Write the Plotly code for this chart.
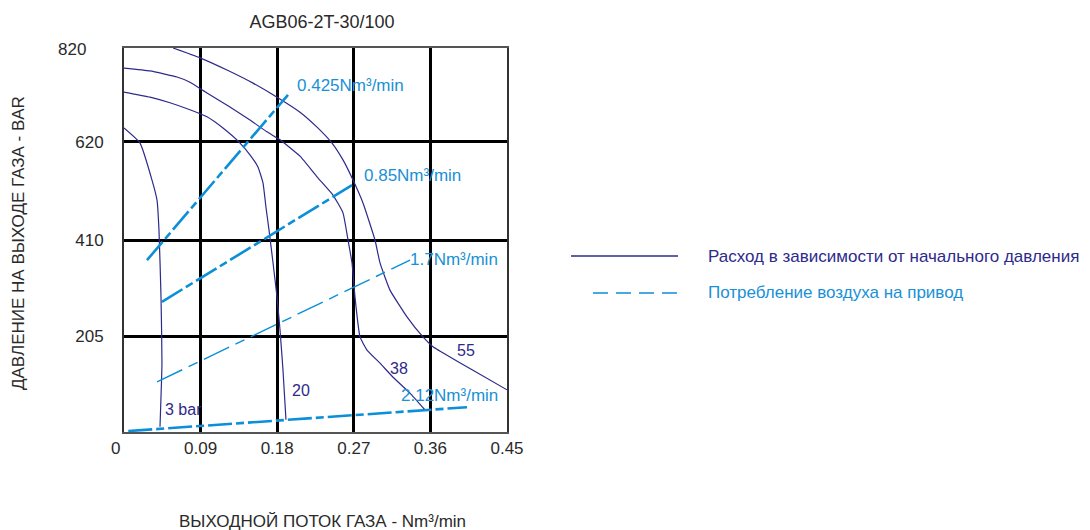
import plotly.graph_objects as go

# ---------------- data ----------------
x_ticks = [0.09, 0.18, 0.27, 0.36, 0.45]
x_ticktext = ["0.09", "0.18", "0.27", "0.36", "0.45"]
y_ticks = [205, 410, 620]
y_top_label = "820"
origin_label = "0"

# flow curves (gas outlet flow vs outlet pressure) for inlet pressures
c3_x = [0.0, 0.0188, 0.0329, 0.0388, 0.0411, 0.0435, 0.0446, 0.0423]
c3_y = [649, 617, 538, 495, 431, 288, 147, 11]

c20_x = [0.0, 0.0305, 0.0540, 0.0775, 0.0975, 0.1163, 0.1363, 0.1480, 0.1574,
         0.1633, 0.1668, 0.1704, 0.1751, 0.1798, 0.1833, 0.1868, 0.1903]
c20_y = [726, 715, 703, 688, 673, 649, 617, 592, 566, 532, 480, 431, 361, 288,
         218, 132, 26]

c38_x = [0.0, 0.0305, 0.0623, 0.0775, 0.0975, 0.1245, 0.1480, 0.1680, 0.1833,
         0.2068, 0.2268, 0.2456, 0.2573, 0.2632, 0.2679, 0.2714, 0.2773, 0.2855,
         0.3008, 0.3161, 0.3360, 0.3537]
c38_y = [777, 771, 758, 747, 724, 694, 666, 641, 624, 589, 545, 506, 468, 410,
         361, 288, 203, 175, 147, 117, 83, 47]

c55_x = [0.0576, 0.0893, 0.1210, 0.1516, 0.1798, 0.2068, 0.2268, 0.2444, 0.2573,
         0.2691, 0.2808, 0.2949, 0.3008, 0.3125, 0.3325, 0.3513, 0.3631, 0.3830,
         0.4100, 0.4500]
c55_y = [820, 799, 773, 745, 715, 683, 651, 617, 581, 538, 489, 410, 361, 303,
         246, 203, 182, 160, 132, 90]

curve_labels = ["3 bar", "20", "38", "55"]
curve_label_x = [0.0458, 0.195, 0.3102, 0.389]
curve_label_y = [49, 88, 135, 173]

# air consumption lines
air_labels = ["0.425Nm³/min", "0.85Nm³/min", "1.7Nm³/min", "2.12Nm³/min"]
air_x = [[0.0270, 0.1927], [0.0446, 0.2679], [0.0388, 0.3360], [0.005, 0.4030]]
air_y = [[367, 720], [278, 527], [107, 367], [2, 53]]
air_label_x = [0.2009, 0.2797, 0.3337, 0.3231]
air_label_y = [739, 547, 369, 77]

legend_texts = ["Расход в зависимости от начального давления",
                "Потребление воздуха на привод"]

# ---------------- style ----------------
NAVY = "#2d2a8c"
BLUE = "#0a8fd8"
LBLUE = "#1a90d6"
TXT = "#2a2a2a"
FONT = "Arial, Liberation Sans, sans-serif"

fig = go.Figure()

for xs, ys in [(c3_x, c3_y), (c20_x, c20_y), (c38_x, c38_y), (c55_x, c55_y)]:
    fig.add_trace(go.Scatter(x=xs, y=ys, mode="lines", showlegend=False,
                             line=dict(color=NAVY, width=1.2, shape="spline", smoothing=0.4),
                             hoverinfo="skip"))

air_widths = [2.6, 2.6, 1.4, 2.6]
air_dash = ["24px,4px,8px,4px", "24px,4px,8px,4px", "28px,7px,10px,7px", "24px,4px,8px,4px"]
for i in range(4):
    fig.add_trace(go.Scatter(x=air_x[i], y=air_y[i], mode="lines", showlegend=False,
                             line=dict(color=BLUE, width=air_widths[i], dash=air_dash[i]),
                             hoverinfo="skip"))

annotations = []
for t, x, y in zip(curve_labels, curve_label_x, curve_label_y):
    annotations.append(dict(x=x, y=y, text=t, showarrow=False, xanchor="left",
                            yanchor="middle", font=dict(color=NAVY, size=16, family=FONT)))
for t, x, y in zip(air_labels, air_label_x, air_label_y):
    annotations.append(dict(x=x, y=y, text=t, showarrow=False, xanchor="left",
                            yanchor="middle", font=dict(color=LBLUE, size=17, family=FONT)))

# corner labels
annotations.append(dict(xref="paper", yref="paper", x=-0.094, y=0.995, xanchor="right",
                        yanchor="middle", text=y_top_label, showarrow=False,
                        font=dict(size=17, color=TXT, family=FONT)))
annotations.append(dict(xref="paper", yref="paper", x=-0.022, y=-0.0417, xanchor="center",
                        yanchor="middle", text=origin_label, showarrow=False,
                        font=dict(size=17, color=TXT, family=FONT)))

# axis titles
annotations.append(dict(xref="paper", yref="paper", x=0.517, y=-0.232, yanchor="middle",
                        text="ВЫХОДНОЙ ПОТОК ГАЗА - Nm³/min", showarrow=False,
                        font=dict(size=17, color=TXT, family=FONT)))
annotations.append(dict(xref="paper", yref="paper", x=-0.277, y=0.492, xanchor="center",
                        yanchor="middle",
                        text="ДАВЛЕНИЕ НА ВЫХОДЕ ГАЗА - BAR", showarrow=False, textangle=-90,
                        font=dict(size=17, color=TXT, family=FONT)))

# legend (manual)
annotations.append(dict(xref="paper", yref="paper", x=1.5196, y=0.4583, xanchor="left",
                        yanchor="middle", text=legend_texts[0], showarrow=False,
                        font=dict(size=17, color=NAVY, family=FONT)))
annotations.append(dict(xref="paper", yref="paper", x=1.5196, y=0.362, xanchor="left",
                        yanchor="middle", text=legend_texts[1], showarrow=False,
                        font=dict(size=17, color=LBLUE, family=FONT)))
shapes = [
    dict(type="line", xref="paper", yref="paper", x0=1.167, x1=1.4465, y0=0.4583, y1=0.4583,
         line=dict(color=NAVY, width=1.3)),
    dict(type="line", xref="paper", yref="paper", x0=1.2245, x1=1.4465, y0=0.362, y1=0.362,
         line=dict(color=BLUE, width=1.3, dash="15px,8px")),
]

fig.update_layout(
    width=1082, height=522,
    margin=dict(l=116, r=583, t=40, b=98),
    plot_bgcolor="white", paper_bgcolor="white",
    title=dict(text="AGB06-2T-30/100", xref="paper", x=0.517, xanchor="center",
               yref="container", y=0.973, yanchor="middle",
               font=dict(size=18, color=TXT, family=FONT)),
    annotations=annotations, shapes=shapes,
    font=dict(family=FONT, size=17, color=TXT),
)
fig.update_xaxes(range=[0, 0.45], tickvals=x_ticks, ticktext=x_ticktext,
                 showgrid=True, gridcolor="black", gridwidth=2.6, zeroline=False,
                 showline=True, linecolor="#555", linewidth=2, mirror=True,
                 ticks="", ticklabelstandoff=0, tickfont=dict(size=17, color=TXT))
fig.update_yaxes(range=[0, 820], tickvals=y_ticks, ticktext=[str(v) for v in y_ticks],
                 showgrid=True, gridcolor="black", gridwidth=2.6, zeroline=False,
                 showline=True, linecolor="#333", linewidth=2, mirror=True,
                 ticks="", ticklabelstandoff=15, tickfont=dict(size=17, color=TXT))

fig.write_html("out.html")
